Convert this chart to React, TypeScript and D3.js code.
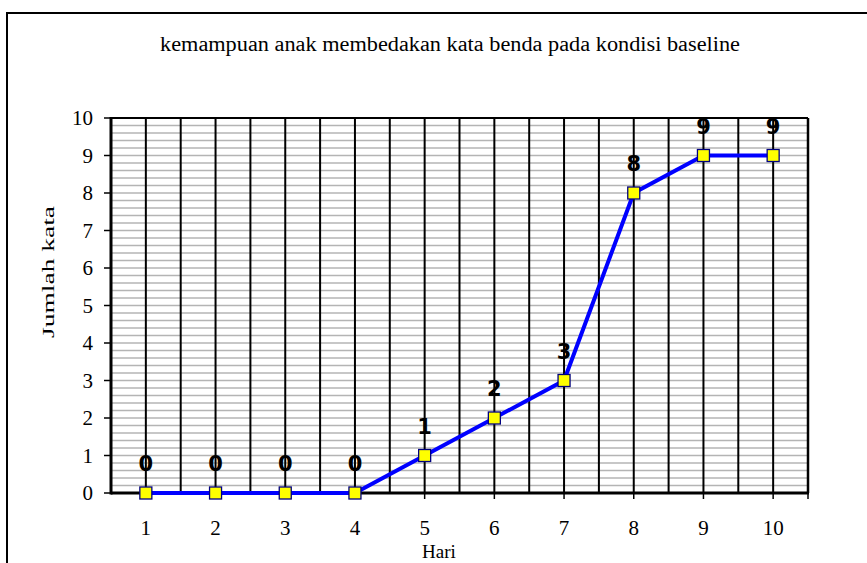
import React from "react";
import * as d3 from "d3";

const categories = ["1", "2", "3", "4", "5", "6", "7", "8", "9", "10"];
const values = [0, 0, 0, 0, 1, 2, 3, 8, 9, 9];
const yTicks = [0, 1, 2, 3, 4, 5, 6, 7, 8, 9, 10];
const titleText = "kemampuan anak membedakan kata benda pada kondisi baseline";
const xTitle = "Hari";
const yTitle = "Jumlah kata";

export default function App() {
  const W = 867, H = 563;
  const left = 111, right = 808, top = 118, bottom = 493;
  const x = d3.scaleBand<string>().domain(categories).range([left, right]).padding(0);
  const y = d3.scaleLinear().domain([0, 10]).range([bottom, top]);
  const bw = x.bandwidth();
  const cx = (c: string) => (x(c) as number) + bw / 2;
  const minor = d3.range(0, 10.001, 0.2);
  const line = d3
    .line<number>()
    .x((_, i) => cx(categories[i]))
    .y((d) => y(d));
  const serif = "'Liberation Serif', 'Times New Roman', Times, serif";
  return (
    <svg width={W} height={H} style={{ position: "absolute", left: 0, top: 0 }}>
      <rect x={0} y={0} width={W} height={H} fill="#fff" />
      <rect x={7} y={13} width={W + 20} height={H + 20} fill="none" stroke="#000" strokeWidth={2} />
      <text
        x={450}
        y={51}
        textAnchor="middle"
        fontFamily={serif}
        fontSize={20}
        textLength={580}
        lengthAdjust="spacingAndGlyphs"
      >
        {titleText}
      </text>
      {minor.map((v, i) => (
        <line key={"h" + i} x1={left} x2={right} y1={y(v)} y2={y(v)} stroke="#b4b4b4" strokeWidth={1.6} />
      ))}
      {categories.map((c) => (
        <g key={"v" + c}>
          <line x1={x(c) as number} x2={x(c) as number} y1={top} y2={bottom} stroke="#000" strokeWidth={2} />
          <line x1={cx(c)} x2={cx(c)} y1={top} y2={bottom} stroke="#000" strokeWidth={2} />
        </g>
      ))}
      <line x1={left} x2={right} y1={top} y2={top} stroke="#000" strokeWidth={2} />
      <line x1={right} x2={right} y1={top} y2={bottom} stroke="#000" strokeWidth={2.5} />
      <line x1={left} x2={left} y1={top - 1} y2={bottom + 1.5} stroke="#000" strokeWidth={3} />
      <line x1={left} x2={right + 1} y1={bottom} y2={bottom} stroke="#000" strokeWidth={3} />
      {yTicks.map((t) => (
        <g key={"yt" + t}>
          <line x1={left - 7} x2={left} y1={y(t)} y2={y(t)} stroke="#000" strokeWidth={1.5} />
          <text x={93} y={y(t) + 7} textAnchor="end" fontFamily={serif} fontSize={21}>
            {t}
          </text>
        </g>
      ))}
      {categories.map((c) => (
        <g key={"xt" + c}>
          <line x1={cx(c)} x2={cx(c)} y1={bottom} y2={bottom + 6} stroke="#000" strokeWidth={1.5} />
          <text x={cx(c)} y={535} textAnchor="middle" fontFamily={serif} fontSize={21}>
            {c}
          </text>
        </g>
      ))}
      <line x1={right} x2={right} y1={bottom} y2={bottom + 6} stroke="#000" strokeWidth={1.5} />
      <text x={439} y={558} textAnchor="middle" fontFamily={serif} fontSize={19}>
        {xTitle}
      </text>
      <text
        transform={`translate(54,272) rotate(-90)`}
        textAnchor="middle"
        fontFamily={serif}
        fontSize={17}
        textLength={132}
        lengthAdjust="spacingAndGlyphs"
      >
        {yTitle}
      </text>
      <path d={line(values) || ""} fill="none" stroke="#0000ff" strokeWidth={4} />
      {values.map((v, i) => (
        <rect
          key={"m" + i}
          x={cx(categories[i]) - 6}
          y={y(v) - 6}
          width={12}
          height={12}
          fill="#ffff00"
          stroke="#000080"
          strokeWidth={1.3}
        />
      ))}
      {values.map((v, i) => (
        <text
          key={"l" + i}
          x={cx(categories[i])}
          y={y(v) - 22}
          textAnchor="middle"
          fontFamily="'DejaVu Sans', sans-serif"
          fontWeight="bold"
          fontSize={21}
        >
          {v}
        </text>
      ))}
    </svg>
  );
}
